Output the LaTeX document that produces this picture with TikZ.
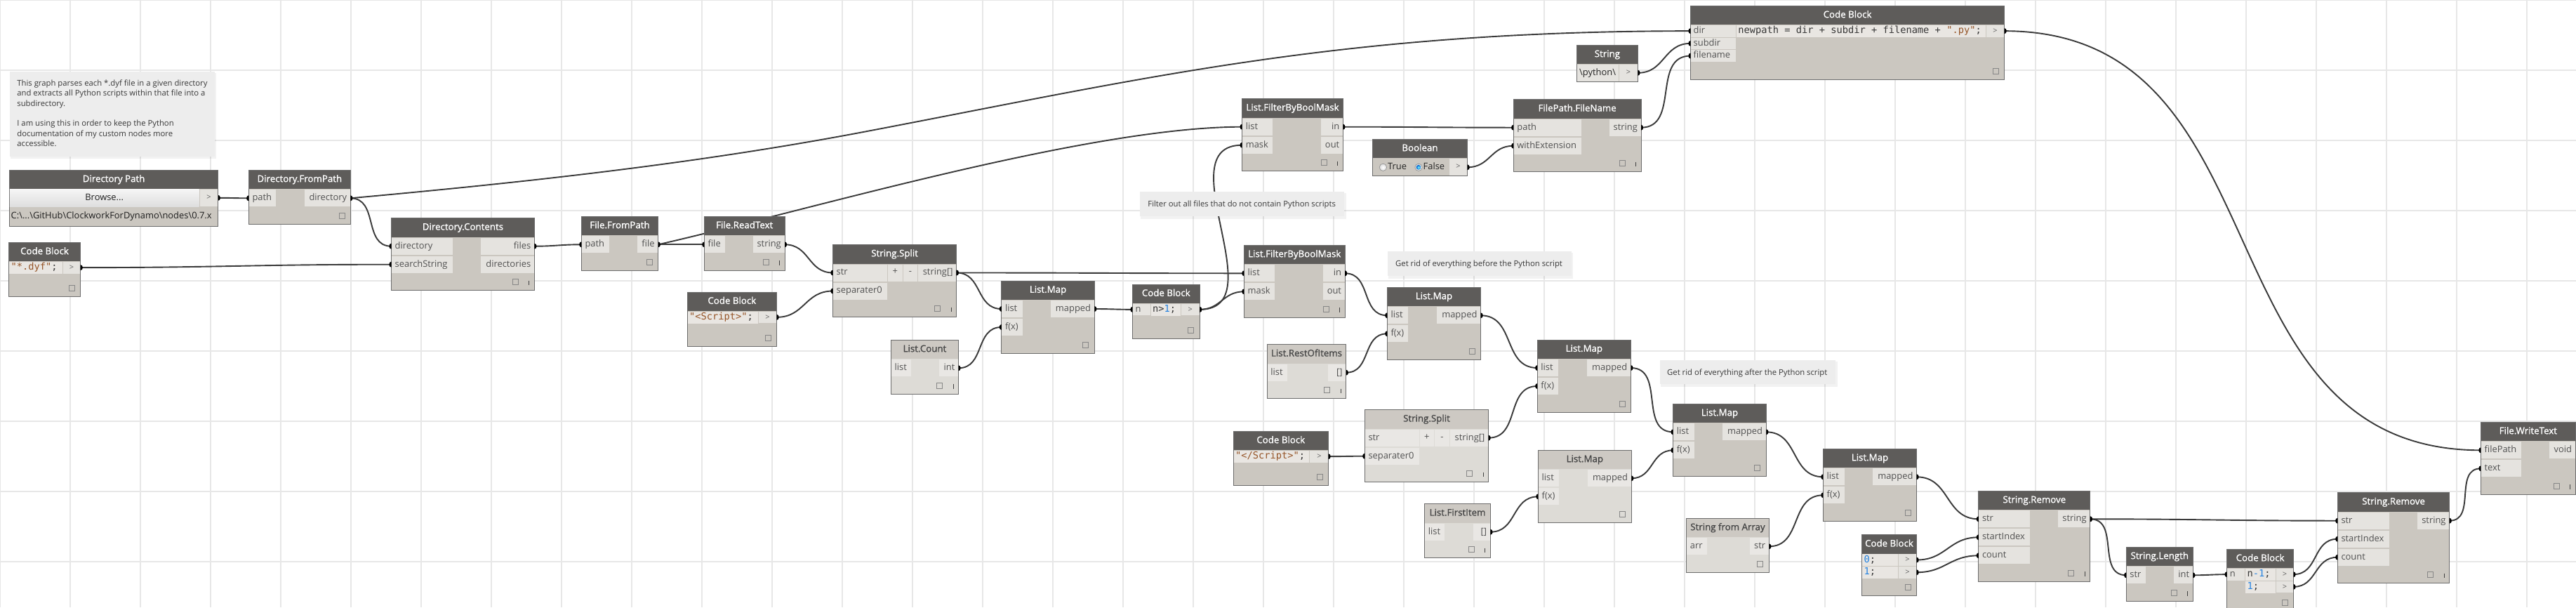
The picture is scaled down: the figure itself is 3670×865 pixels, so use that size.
\documentclass[tikz,border=0pt]{standalone}
\usepackage{fontspec}
\setmainfont{Open Sans}
\setmonofont{DejaVu Sans Mono}
\newfontfamily\titlefont{Open Sans}[FakeBold=1.2]
\usetikzlibrary{calc}
\pgfdeclarelayer{gridlayer}
\pgfdeclarelayer{wirelayer}
\pgfsetlayers{gridlayer,wirelayer,main}

\definecolor{gridc}{RGB}{231,231,231}
\definecolor{ahead}{RGB}{94,92,90}
\definecolor{abody}{RGB}{203,199,192}
\definecolor{acell}{RGB}{229,227,223}
\definecolor{lhead}{RGB}{205,201,195}
\definecolor{lbody}{RGB}{221,219,214}
\definecolor{lcell}{RGB}{233,231,228}
\definecolor{nborder}{RGB}{108,108,108}
\definecolor{labc}{RGB}{82,82,82}
\definecolor{wirec}{RGB}{58,58,58}
\definecolor{notec}{RGB}{237,237,237}
\definecolor{codecell}{RGB}{233,230,226}
\definecolor{codestr}{RGB}{150,85,40}
\definecolor{codenum}{RGB}{35,130,225}
\definecolor{codetxt}{RGB}{55,55,55}
\definecolor{sqc}{RGB}{135,135,135}

\tikzset{
  lab/.style={font=\fontsize{12.9}{14}\selectfont, text=labc, inner sep=0pt, text height=9.3pt, text depth=2.5pt},
  atitle/.style={font=\titlefont\fontsize{13.3}{15}\selectfont, text=white, inner sep=0pt, text height=9.8pt, text depth=3pt},
  ltitle/.style={font=\titlefont\fontsize{13.3}{15}\selectfont, text=black!72, inner sep=0pt, text height=9.8pt, text depth=3pt},
  nodebody/.style={draw=nborder, line width=1pt, inner sep=0pt, outer sep=0pt},
  wire/.style={draw=wirec, line width=1.9pt},
  notetext/.style={font=\fontsize{11.3}{14}\selectfont, text=black!78, inner sep=0pt, anchor=base west},
  codet/.style={font=\ttfamily\fontsize{13.7}{16}\selectfont, text=codetxt, inner sep=0pt, anchor=west, text height=10pt, text depth=3pt},
  gt/.style={font=\fontsize{11}{12}\selectfont, text=black!62, inner sep=0pt, text height=7pt, text depth=1pt},
}

% generic Dynamo node: name, x1, y1, x2, rows, title, variant (a/l)
\newcommand\DN[7]{%
  \pgfmathsetmacro\NX{#2}\pgfmathsetmacro\NY{#3}\pgfmathsetmacro\NR{#4}%
  \pgfmathsetmacro\NB{#3+51+26*#5}%
  \def\CC{#7cell}%
  \node[nodebody, fill=#7body, minimum width={(#4-#2)*1pt}, minimum height={(\NB-#3)*1pt}] (#1) at ({(#2+#4)/2},{(#3+\NB)/2}) {};
  \fill[#7head] (#2,#3) rectangle (#4,{#3+27});
  \draw[nborder, line width=1pt] (#2,#3) rectangle (#4,\NB);
  \node[#7title] at ({(#2+#4)/2},{#3+13.5}) {#6};
}
\newcommand\IN[4]{%
  \pgfmathsetmacro\RY{\NY+27+26*(#1-1)}%
  \fill[\CC] ({\NX+0.5},{\RY+1}) rectangle (#3,{\RY+25});
  \node[lab, anchor=west] at ({\NX+5},{\RY+13}) {#2};
  \coordinate (#4) at (\NX,{\RY+13});
}
\newcommand\OUT[4]{%
  \pgfmathsetmacro\RY{\NY+27+26*(#1-1)}%
  \fill[\CC] (#3,{\RY+1}) rectangle ({\NR-0.5},{\RY+25});
  \node[lab, anchor=east] at ({\NR-5},{\RY+13}) {#2};
  \coordinate (#4) at (\NR,{\RY+13});
}
\newcommand\PM[1]{%
  \pgfmathsetmacro\RY{\NY+27}%
  \fill[\CC] (#1,{\RY+1}) rectangle ({#1+20.4},{\RY+25});
  \fill[\CC] ({#1+21.6},{\RY+1}) rectangle ({#1+42},{\RY+25});
  \node[lab] at ({#1+10.2},{\RY+12}) {+};
  \node[lab] at ({#1+31.8},{\RY+12}) {-};
}
\newcommand\SQ[1]{\draw[sqc, line width=0.8pt] ({\NR-#1-4},{\NB-16}) rectangle ({\NR-#1+4},{\NB-8});}
\newcommand\LACE{\draw[black!75, line width=1pt] ({\NR-7.5},{\NB-14}) -- ({\NR-7.5},{\NB-7.5});}

% code block frame: name, x1, y1, x2, y2
\newcommand\CBK[5]{%
  \pgfmathsetmacro\NX{#2}\pgfmathsetmacro\NY{#3}\pgfmathsetmacro\NR{#4}\pgfmathsetmacro\NB{#5}%
  \def\CC{acell}%
  \node[nodebody, fill=abody, minimum width={(#4-#2)*1pt}, minimum height={(#5-#3)*1pt}] (#1) at ({(#2+#4)/2},{(#3+#5)/2}) {};
  \fill[ahead] (#2,#3) rectangle (#4,{#3+27});
  \draw[nborder, line width=1pt] (#2,#3) rectangle (#4,#5);
  \node[atitle] at ({(#2+#4)/2},{#3+13.5}) {Code Block};
  \SQ{12.5}%
}
\newcommand\CROW[5]{%
  \pgfmathsetmacro\RY{\NY+27+17.7*(#1-1)}%
  \fill[codecell] (#2,{\RY+0.5}) rectangle (#3,{\RY+17.7});
  \fill[acell] ({#3+1},{\RY+0.5}) rectangle ({\NR-0.5},{\RY+17.2});
  \node[codet] at ({#2+2.5},{\RY+9}) {#4};
  \node[gt] at ({(#3+1+\NR)/2},{\RY+9}) {>};
  \coordinate (#5) at (\NR,{\RY+8.85});
}
\newcommand\CIN[4]{%
  \pgfmathsetmacro\RY{\NY+27+17.7*(#1-1)}%
  \fill[acell] ({\NX+0.5},{\RY+0.5}) rectangle (#3,{\RY+17.2});
  \node[lab, anchor=west] at ({\NX+4},{\RY+8.85}) {#2};
  \coordinate (#4) at (\NX,{\RY+8.85});
}
\newcommand\NOTEBOX[5]{%
  \fill[black, opacity=0.05] ({#2+1},{#3+2}) rectangle ({#4+2.5},{#5+3.5});
  \node[fill=notec, inner sep=0pt, minimum width={(#4-#2)*1pt}, minimum height={(#5-#3)*1pt}] (#1) at ({(#2+#4)/2},{(#3+#5)/2}) {};
}
\newcommand\DOTO[1]{\fill[black] ([yshift=4pt]#1) arc[start angle=90, end angle=-90, x radius=3.2pt, y radius=4pt] -- cycle;}
\newcommand\DOTI[1]{\fill[black] ([yshift=4pt]#1) arc[start angle=90, end angle=270, x radius=3.2pt, y radius=4pt] -- cycle;}
\newcommand\W[2]{%
  \begin{pgfonlayer}{wirelayer}
    \draw[wire] let \p1=(#1), \p2=(#2), \n1={0.45*veclen(\x2-\x1,\y2-\y1)} in (#1) .. controls ([xshift=\n1]#1) and ([xshift=-\n1]#2) .. (#2);
  \end{pgfonlayer}
  \DOTO{#1}\DOTI{#2}}

\begin{document}
\begin{tikzpicture}[x=1pt,y=-1pt]
\useasboundingbox (0,0) rectangle (3670,865);
\begin{pgfonlayer}{gridlayer}
  \fill[white] (0,0) rectangle (3670,865);
  \foreach \gx in {0,100,...,3600} \draw[gridc, line width=2pt] (\gx,0) -- (\gx,865);
  \foreach \gy in {0,100,...,800} \draw[gridc, line width=2pt] (0,\gy) -- (3670,\gy);
\end{pgfonlayer}

% ---------- notes
\NOTEBOX{note1}{13.8}{101.7}{305.6}{222.7}
\node[notetext] at (24.2,122.3) {This graph parses each *.dyf file in a given directory};
\node[notetext] at (24.2,136.7) {and extracts all Python scripts within that file into a};
\node[notetext] at (24.2,151.1) {subdirectory.};
\node[notetext] at (24.2,179.9) {I am using this in order to keep the Python};
\node[notetext] at (24.2,194.3) {documentation of my custom nodes more};
\node[notetext] at (24.2,208.7) {accessible.};
\NOTEBOX{note2}{1624}{273.3}{1915}{308.3}
\node[notetext] at (1635.2,294.3) {Filter out all files that do not contain Python scripts};
\NOTEBOX{note3}{1977}{358.3}{2238.5}{393.3}
\node[notetext] at (1988,379.3) {Get rid of everything before the Python script};
\NOTEBOX{note4}{2364.6}{512.7}{2615}{547.3}
\node[notetext] at (2375,534) {Get rid of everything after the Python script};

% ---------- Directory Path
\node[nodebody, fill=abody, minimum width=297.4pt, minimum height=80pt] (dp) at (162.1,282.3) {};
\fill[ahead] (13.4,242.3) rectangle (310.8,269.3);
\draw[nborder, line width=1pt] (13.4,242.3) rectangle (310.8,322.3);
\node[atitle] at (162.1,255.8) {Directory Path};
\shade[top color=black!4, bottom color=black!13] (13.9,269.8) rectangle (283.5,294.3);
\fill[acell] (284.5,269.8) rectangle (310.3,294.3);
\node[lab, text=black!88] at (148.7,281.8) {Browse...};
\node[gt] at (297.4,281.8) {>};
\node[lab, anchor=west, text=black!88] at (15.5,308.3) {C:\textbackslash...\textbackslash GitHub\textbackslash ClockworkForDynamo\textbackslash nodes\textbackslash 0.7.x};
\coordinate (dp-out) at (310.8,281.8);

% ---------- Directory.FromPath
\DN{dfp}{354.3}{242.3}{499.4}{1}{Directory.FromPath}{a}
\IN{1}{path}{393.4}{dfp-path}
\OUT{1}{directory}{434}{dfp-directory}
\SQ{12.5}

% ---------- Code Block *.dyf
\CBK{cbdyf}{12.3}{345.3}{114.7}{422.3}
\CROW{1}{13}{88.5}{\textcolor{codestr}{"*.dyf"};}{cbdyf-out}

% ---------- Directory.Contents
\DN{dc}{557.5}{310.7}{761.4}{2}{Directory.Contents}{a}
\IN{1}{directory}{644.8}{dc-directory}
\IN{2}{searchString}{644.8}{dc-searchString}
\OUT{1}{files}{685}{dc-files}
\OUT{2}{directories}{685}{dc-directories}
\SQ{27}\LACE

% ---------- File.FromPath
\DN{ffp}{828.3}{308.3}{937.8}{1}{File.FromPath}{a}
\IN{1}{path}{868}{ffp-path}
\OUT{1}{file}{908}{ffp-file}
\SQ{12.5}

% ---------- File.ReadText
\DN{frt}{1003.4}{308.3}{1118}{1}{File.ReadText}{a}
\IN{1}{file}{1033}{frt-file}
\OUT{1}{string}{1073}{frt-string}
\SQ{27}\LACE

% ---------- Code Block <Script>
\CBK{cbscript}{979}{416}{1106.6}{493.3}
\CROW{1}{979.5}{1079.5}{\textcolor{codestr}{"<Script>"};}{cbscript-out}

% ---------- String.Split
\DN{ss1}{1186.5}{348.5}{1362.7}{2}{String.Split}{a}
\IN{1}{str}{1264.2}{ss1-str}
\IN{2}{separater0}{1264.2}{ss1-sep}
\PM{1265.2}
\OUT{1}{string[]}{1308.4}{ss1-out}
\SQ{27}\LACE

% ---------- List.Count
\DN{lc}{1269.4}{484.3}{1365.5}{1}{List.Count}{l}
\IN{1}{list}{1298}{lc-list}
\OUT{1}{int}{1338}{lc-int}
\SQ{27}\LACE

% ---------- List.Map 1
\DN{lm1}{1426.8}{400}{1559.3}{2}{List.Map}{a}
\IN{1}{list}{1456.8}{lm1-list}
\IN{2}{f(x)}{1456.8}{lm1-f}
\OUT{1}{mapped}{1497}{lm1-mapped}
\SQ{12.5}

% ---------- Code Block n>1
\CBK{cbn1}{1613.4}{405}{1709.1}{482.3}
\CIN{1}{n}{1639}{cbn1-n}
\CROW{1}{1639.5}{1681.5}{n>\textcolor{codenum}{1};}{cbn1-out}

% ---------- FilterByBoolMask 1
\DN{fbm1}{1769.6}{140.7}{1913.4}{2}{List.FilterByBoolMask}{a}
\IN{1}{list}{1813.1}{fbm1-list}
\IN{2}{mask}{1813.1}{fbm1-mask}
\OUT{1}{in}{1882.2}{fbm1-in}
\OUT{2}{out}{1882.2}{fbm1-out}
\SQ{27}\LACE

% ---------- FilterByBoolMask 2
\DN{fbm2}{1772.4}{349.3}{1916.2}{2}{List.FilterByBoolMask}{a}
\IN{1}{list}{1815.9}{fbm2-list}
\IN{2}{mask}{1815.9}{fbm2-mask}
\OUT{1}{in}{1885}{fbm2-in}
\OUT{2}{out}{1885}{fbm2-out}
\SQ{27}\LACE

% ---------- Boolean
\node[nodebody, fill=abody, minimum width=135.3pt, minimum height=51.7pt] (bool) at (2022.95,224.15) {};
\fill[ahead] (1955.3,198.3) rectangle (2090.6,225.3);
\draw[nborder, line width=1pt] (1955.3,198.3) rectangle (2090.6,250);
\node[atitle] at (2022.95,211.8) {Boolean};
\fill[acell] (2065,225.8) rectangle (2090.1,249.5);
\node[gt] at (2077.5,237.7) {>};
\shadedraw[inner color=white, outer color=black!14, draw=black!45, line width=0.6pt] (1970.4,238.3) circle[radius=5.2pt];
\node[lab, anchor=west, text=black!85] at (1977,238.3) {True};
\shadedraw[inner color=white, outer color=black!14, draw=black!45, line width=0.6pt] (2021,238.3) circle[radius=5.2pt];
\shade[inner color=cyan!50!white, outer color=blue!55!cyan!80!black] (2021,238.3) circle[radius=3.4pt];
\node[lab, anchor=west, text=black!85] at (2027.5,238.3) {False};
\coordinate (bool-out) at (2090.6,238.3);

% ---------- FilePath.FileName
\DN{ffn}{2156.2}{141.7}{2338}{2}{FilePath.FileName}{a}
\IN{1}{path}{2253}{ffn-path}
\IN{2}{withExtension}{2253}{ffn-ext}
\OUT{1}{string}{2293}{ffn-string}
\SQ{27}\LACE

% ---------- String
\node[nodebody, fill=abody, minimum width=87pt, minimum height=52pt] (strn) at (2289.9,90.3) {};
\fill[ahead] (2246.4,64.3) rectangle (2333.4,91.3);
\draw[nborder, line width=1pt] (2246.4,64.3) rectangle (2333.4,116.3);
\node[atitle] at (2289.9,77.8) {String};
\fill[acell] (2247,91.8) rectangle (2306,115.8);
\fill[acell] (2307,91.8) rectangle (2332.9,115.8);
\node[lab, anchor=west, text=black!85] at (2250,103.8) {\textbackslash python\textbackslash};
\node[gt] at (2320,103.8) {>};
\coordinate (str-out) at (2333.4,103.8);

% ---------- big Code Block
\CBK{cbbig}{2408.5}{8.3}{2855.6}{113.3}
\CIN{1}{dir}{2472.8}{cbbig-dir}
\CIN{2}{subdir}{2472.8}{cbbig-subdir}
\CIN{3}{filename}{2472.8}{cbbig-filename}
\CROW{1}{2473.6}{2828.5}{newpath = dir + subdir + filename + \textcolor{codestr}{".py"};}{cbbig-out}

% ---------- List.Map 2
\DN{lm2}{1976.3}{409.3}{2109.6}{2}{List.Map}{a}
\IN{1}{list}{2006.3}{lm2-list}
\IN{2}{f(x)}{2006.3}{lm2-f}
\OUT{1}{mapped}{2047.3}{lm2-mapped}
\SQ{12.5}

% ---------- List.RestOfItems
\DN{roi}{1805.2}{490.7}{1917.8}{1}{List.RestOfItems}{l}
\IN{1}{list}{1833.7}{roi-list}
\OUT{1}{[]}{1892}{roi-out}
\SQ{27}\LACE

% ---------- Code Block </Script>
\CBK{cbend}{1757}{614.3}{1892.5}{691.3}
\CROW{1}{1757.5}{1865.4}{\textcolor{codestr}{"</Script>"};}{cbend-out}

% ---------- String.Split 2
\DN{ss2}{1944.3}{583.7}{2120.6}{2}{String.Split}{l}
\IN{1}{str}{2022}{ss2-str}
\IN{2}{separater0}{2022}{ss2-sep}
\PM{2022.6}
\OUT{1}{string[]}{2066}{ss2-out}
\SQ{27}\LACE

% ---------- List.Map 3
\DN{lm3}{2190.2}{484}{2323.5}{2}{List.Map}{a}
\IN{1}{list}{2220.2}{lm3-list}
\IN{2}{f(x)}{2220.2}{lm3-f}
\OUT{1}{mapped}{2261.2}{lm3-mapped}
\SQ{12.5}

% ---------- List.Map 4
\DN{lm4}{2191.4}{641.3}{2324.3}{2}{List.Map}{l}
\IN{1}{list}{2221.4}{lm4-list}
\IN{2}{f(x)}{2221.4}{lm4-f}
\OUT{1}{mapped}{2262}{lm4-mapped}
\SQ{12.5}

% ---------- List.FirstItem
\DN{fi}{2029.7}{717.7}{2123.4}{1}{List.FirstItem}{l}
\IN{1}{list}{2058}{fi-list}
\OUT{1}{[]}{2099}{fi-out}
\SQ{27}\LACE

% ---------- List.Map 5
\DN{lm5}{2383.6}{575.3}{2516.3}{2}{List.Map}{a}
\IN{1}{list}{2413.6}{lm5-list}
\IN{2}{f(x)}{2413.6}{lm5-f}
\OUT{1}{mapped}{2453.8}{lm5-mapped}
\SQ{12.5}

% ---------- String from Array
\DN{sfa}{2402.6}{738.3}{2520.3}{1}{String from Array}{l}
\IN{1}{arr}{2431.8}{sfa-arr}
\OUT{1}{str}{2492.6}{sfa-str}
\SQ{12.5}

% ---------- List.Map 6
\DN{lm6}{2597.4}{639.3}{2730.6}{2}{List.Map}{a}
\IN{1}{list}{2627.8}{lm6-list}
\IN{2}{f(x)}{2627.8}{lm6-f}
\OUT{1}{mapped}{2668}{lm6-mapped}
\SQ{12.5}

% ---------- Code Block 0; 1;
\CBK{cb01}{2652.3}{761.7}{2730.6}{848.3}
\CROW{1}{2652.8}{2703.5}{\textcolor{codenum}{0};}{cb01-o1}
\CROW{2}{2652.8}{2703.5}{\textcolor{codenum}{1};}{cb01-o2}

% ---------- String.Remove 1
\DN{sr1}{2818.8}{699.3}{2977.8}{3}{String.Remove}{a}
\IN{1}{str}{2891.6}{sr1-str}
\IN{2}{startIndex}{2891.6}{sr1-start}
\IN{3}{count}{2891.6}{sr1-count}
\OUT{1}{string}{2932}{sr1-string}
\SQ{27}\LACE

% ---------- String.Length
\DN{sl}{3029.2}{779.3}{3124.3}{1}{String.Length}{a}
\IN{1}{str}{3057.2}{sl-str}
\OUT{1}{int}{3096.7}{sl-int}
\SQ{27}\LACE

% ---------- Code Block n-1; 1;
\CBK{cbn2}{3172.6}{782.3}{3267.5}{870}
\CIN{1}{n}{3198.3}{cbn2-n}
\CROW{1}{3198.8}{3241.5}{n\textcolor{codenum}{-1};}{cbn2-o1}
\CROW{2}{3198.8}{3241.5}{\textcolor{codenum}{1};}{cbn2-o2}

% ---------- String.Remove 2
\DN{sr2}{3330.3}{701.7}{3489.7}{3}{String.Remove}{a}
\IN{1}{str}{3403.5}{sr2-str}
\IN{2}{startIndex}{3403.5}{sr2-start}
\IN{3}{count}{3403.5}{sr2-count}
\OUT{1}{string}{3443.8}{sr2-string}
\SQ{27}\LACE

% ---------- File.WriteText
\DN{fwt}{3534.4}{601.3}{3669.2}{2}{File.WriteText}{a}
\IN{1}{filePath}{3591.7}{fwt-filePath}
\IN{2}{text}{3591.7}{fwt-text}
\OUT{1}{void}{3631.6}{fwt-void}
\SQ{27}\LACE

% ---------- wires
\W{dp-out}{dfp-path}
\W{dfp-directory}{dc-directory}
\begin{pgfonlayer}{wirelayer}
  \draw[wire] (dfp-directory) .. controls (744,260) and (987,234) .. (1230,188) .. controls (1630,112) and (1907,44.2) .. (cbbig-dir);
  \draw[wire] (ffp-file) .. controls (1150,300) and (1550,180.7) .. (fbm1-list);
\end{pgfonlayer}
\DOTI{cbbig-dir}\DOTI{fbm1-list}
\W{cbdyf-out}{dc-searchString}
\W{dc-files}{ffp-path}
\W{ffp-file}{frt-file}
\W{frt-string}{ss1-str}
\W{cbscript-out}{ss1-sep}
\W{ss1-out}{fbm2-list}
\W{ss1-out}{lm1-list}
\W{lc-int}{lm1-f}
\W{lm1-mapped}{cbn1-n}
\W{cbn1-out}{fbm1-mask}
\W{cbn1-out}{fbm2-mask}
\W{fbm1-in}{ffn-path}
\W{bool-out}{ffn-ext}
\W{str-out}{cbbig-subdir}
\W{ffn-string}{cbbig-filename}
\W{cbbig-out}{fwt-filePath}
\W{fbm2-in}{lm2-list}
\W{roi-out}{lm2-f}
\W{cbend-out}{ss2-sep}
\W{lm2-mapped}{lm3-list}
\W{ss2-out}{lm3-f}
\W{fi-out}{lm4-f}
\W{lm3-mapped}{lm5-list}
\W{lm4-mapped}{lm5-f}
\W{lm5-mapped}{lm6-list}
\W{sfa-str}{lm6-f}
\W{lm6-mapped}{sr1-str}
\W{cb01-o1}{sr1-start}
\W{cb01-o2}{sr1-count}
\W{sr1-string}{sr2-str}
\W{sr1-string}{sl-str}
\W{sl-int}{cbn2-n}
\W{cbn2-o1}{sr2-start}
\W{cbn2-o2}{sr2-count}
\W{sr2-string}{fwt-text}
\end{tikzpicture}
\end{document}
